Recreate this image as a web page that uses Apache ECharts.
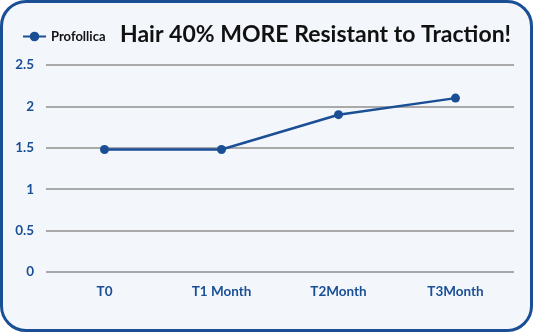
<!DOCTYPE html>
<html><head><meta charset="utf-8">
<script src="https://cdn.jsdelivr.net/npm/echarts@6/dist/echarts.min.js"></script>
<style>
html,body{margin:0;padding:0;background:#ffffff;}
#frame{position:absolute;left:0;top:0;width:527px;height:326px;border:3px solid #1a4f96;border-radius:26px;background:#f3f7fb;}
#main{position:absolute;left:0;top:0;width:533px;height:332px;}
</style></head>
<body>
<div id="frame"></div>
<div id="main"></div>
<script>
var categories = ['T0', 'T1 Month', 'T2Month', 'T3Month'];
var values = [1.48, 1.48, 1.9, 2.1];
var seriesName = 'Profollica';
var titleText = 'Hair 40% MORE Resistant to Traction!';

var chart = echarts.init(document.getElementById('main'));
chart.setOption({
  backgroundColor: 'transparent',
  title: {
    text: titleText,
    left: 115, top: 18,
    textStyle: {fontFamily: 'Lato', fontWeight: 'bold', fontSize: 23, color: '#111111'}
  },
  legend: {
    data: [seriesName],
    left: 17, top: 25,
    itemWidth: 23, itemHeight: 12, itemGap: 6,
    textStyle: {fontFamily: 'Lato', fontWeight: 'bold', fontSize: 13, color: '#111111'}
  },
  grid: {left: 46, right: 19, top: 65, bottom: 60, containLabel: false},
  xAxis: {
    type: 'category', data: categories, boundaryGap: true,
    axisLine: {show: false}, axisTick: {show: false},
    axisLabel: {margin: 13, fontFamily: 'Lato', fontWeight: 'bold', fontSize: 13.5, color: '#1a4f96'}
  },
  yAxis: {
    type: 'value', min: 0, max: 2.5, interval: 0.5,
    axisLine: {show: false}, axisTick: {show: false},
    axisLabel: {margin: 12, fontFamily: 'Lato', fontWeight: 'bold', fontSize: 13.5, color: '#1a4f96'},
    splitLine: {lineStyle: {color: '#a9a9a9', width: 2}}
  },
  series: [{
    name: seriesName, type: 'line', data: values,
    symbol: 'circle', symbolSize: 9,
    lineStyle: {color: '#1a4f96', width: 2.5},
    itemStyle: {color: '#1a4f96'},
    animation: false
  }],
  animation: false
});
</script>
</body></html>
